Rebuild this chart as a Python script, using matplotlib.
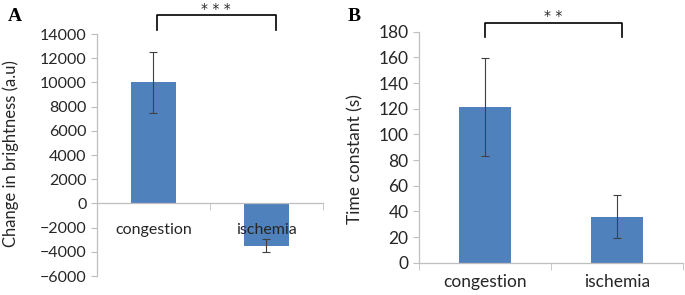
import matplotlib
matplotlib.use("Agg")
import matplotlib.pyplot as plt

# data
categories = ["congestion", "ischemia"]
brightness = [10000, -3500]
brightness_err = [2500, 530]
time_const = [121.5, 36]
time_const_err = [38, 17]

BAR = "#4F81BD"
AXC = "#BFBFBF"
TXT = "#262626"
plt.rcParams["font.family"] = ["Lato", "DejaVu Sans"]

fig = plt.figure(figsize=(6.85, 2.95), dpi=100)
axA = fig.add_axes([0.1416, 0.0644, 0.3299, 0.8203])
axB = fig.add_axes([0.6117, 0.1095, 0.3853, 0.7830])


def style(ax, ylim, step, label, lab_pad, fs, lab_fs, lab_xy):
    x = range(len(categories))
    ax.set_axisbelow(False)
    ax.set_xlim(-0.5, 1.5)
    ax.set_ylim(*ylim)
    ax.set_yticks(range(ylim[0], ylim[1] + 1, step))
    ax.set_xticks(list(x))
    ax.set_xticklabels(categories)
    ax.set_xticks([-0.5, 0.5, 1.5], minor=True)
    ax.tick_params(axis="x", which="major", length=0, pad=lab_pad,
                   labelsize=fs, labelcolor=TXT)
    ax.tick_params(axis="x", which="minor", length=5, color=AXC, direction="out")
    ax.tick_params(axis="y", length=4, color=AXC, labelsize=fs, labelcolor=TXT)
    for s in ["top", "right"]:
        ax.spines[s].set_visible(False)
    for s in ["left", "bottom"]:
        ax.spines[s].set_color(AXC)
        ax.spines[s].set_linewidth(0.9)
    ax.spines["bottom"].set_position(("data", 0))
    ax.set_ylabel(label, fontsize=lab_fs, color=TXT)
    ax.yaxis.set_label_coords(*lab_xy)


def bracket(ax, x0, x1, ytop, ybot, stars, ystar):
    ax.plot([x0, x0, x1, x1], [ybot, ytop, ytop, ybot], color="black",
            lw=1.2, clip_on=False)
    ax.text((x0 + x1) / 2, ystar, stars, ha="center", va="baseline",
            fontsize=10, color=TXT, family="DejaVu Sans", clip_on=False)


x = list(range(len(categories)))
axA.bar(x, brightness, width=0.4, color=BAR, zorder=2)
axA.errorbar(x, brightness, yerr=brightness_err, fmt="none", ecolor="#404040",
             elinewidth=0.8, capsize=3, capthick=0.8, zorder=3)
style(axA, (-6000, 14000), 2000, "Change in brightness (a.u)", 14, 11.5, 12,
      (-0.345, 0.506))
bracket(axA, 0.03, 1.08, 15550, 14350, "* * *", 15740)

axB.bar(x, time_const, width=0.39, color=BAR, zorder=2)
axB.errorbar(x, time_const, yerr=time_const_err, fmt="none", ecolor="#404040",
             elinewidth=0.8, capsize=3, capthick=0.8, zorder=3)
style(axB, (0, 180), 20, "Time constant (s)", 8, 12.5, 12.5, (-0.21, 0.447))
bracket(axB, 0.0, 1.04, 186.8, 175.6, "* *", 189.3)

fig.text(0.012, 0.945, "A", fontsize=14, fontweight="bold",
         family="Liberation Serif", va="center")
fig.text(0.508, 0.945, "B", fontsize=14, fontweight="bold",
         family="Liberation Serif", va="center")

fig.savefig("out.png", dpi=100)
